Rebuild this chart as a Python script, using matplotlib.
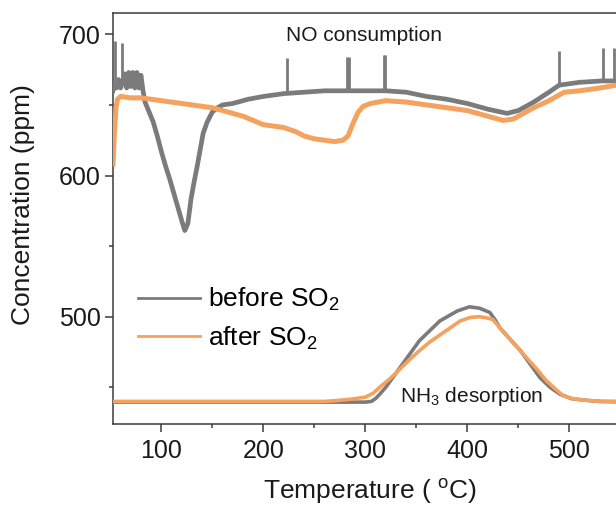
import matplotlib
matplotlib.use('Agg')
import matplotlib.pyplot as plt
from matplotlib.ticker import MultipleLocator
from matplotlib.lines import Line2D

plt.rcParams['font.family'] = ['Liberation Sans', 'DejaVu Sans']
plt.rcParams['mathtext.fontset'] = 'custom'
plt.rcParams['mathtext.rm'] = 'Liberation Sans'
plt.rcParams['mathtext.it'] = 'Liberation Sans:italic'
plt.rcParams['mathtext.bf'] = 'Liberation Sans:bold'

# NO signal before SO2 poisoning (temperature in C, concentration in ppm)
no_before_t = [52.6, 54, 56, 58, 60, 62, 64, 66, 68, 70, 72, 74, 76, 78, 80, 82,
               84, 88, 92, 96, 100, 104, 108, 112, 116, 120, 123, 126, 129, 132, 135, 138,
               141, 145, 150, 155, 160, 170, 185, 200, 220, 240, 260, 280, 298, 320,
               340, 360, 380, 400, 420, 439, 450, 465, 480, 490, 510, 532, 545, 562]
no_before_c = [660, 664, 662, 668, 662, 666, 672, 662, 673, 663, 673, 662, 673, 662, 671, 660,
               652, 645, 638, 628, 617, 607, 598, 588, 578, 568, 561, 566, 583, 595, 606, 618,
               630, 638, 645, 648, 650, 651, 654, 656, 658, 659, 660, 660, 660, 660,
               659, 656, 654, 651, 647, 644, 646, 652, 659, 664, 666, 667, 667, 667]

# sharp spikes on the NO trace before SO2
spike_t = [55, 61, 223, 282, 283.5, 318, 319.5, 490, 533, 544]
spike_base = [664, 664, 658, 660, 660, 660, 660, 664, 667, 667]
spike_top = [695, 694, 683, 684, 684, 685, 685, 688, 690, 690]

# NO signal after SO2 poisoning
no_after_t = [52.6, 54, 55.5, 57, 60, 70, 80, 90, 100, 110, 120, 130, 140, 150, 160, 170,
              180, 190, 200, 210, 220, 232, 240, 250, 260, 270, 278, 283, 288, 293, 298,
              305, 320, 340, 360, 380, 400, 420, 435, 445, 455, 465, 480, 495, 510, 530, 546, 562]
no_after_c = [608, 630, 648, 654, 656, 655, 655, 654, 653, 652, 651, 650, 649, 648, 646, 644,
              642, 639, 636, 635, 634, 631, 628, 626, 625, 624, 625, 628, 637, 645, 649,
              651, 653, 652, 650, 648, 646, 642, 639, 640, 644, 648, 653, 659, 660, 662, 664, 665]

# NH3 desorption signal before SO2
nh3_before_t = [52.6, 300, 306, 310, 314, 320, 334, 353, 373, 390, 402, 412, 422, 427, 432,
                442, 452, 462, 471, 481, 491, 502, 513, 530, 562]
nh3_before_c = [439.5, 439.5, 440, 442, 445, 450, 464, 483, 497, 504, 507, 506, 503, 498, 492,
                484, 476, 466, 457, 450, 445, 442, 441, 440, 439.5]

# NH3 desorption signal after SO2
nh3_after_t = [52.6, 260, 270, 285, 300, 308, 314, 324, 334, 344, 353, 363, 373, 383, 393,
               403, 412, 420, 425, 432, 438, 448, 458, 468, 477, 486, 494, 503, 513, 530, 562]
nh3_after_c = [440, 440, 440.5, 441.5, 443, 446, 450, 456, 463, 470, 476, 482, 487, 492, 497,
               499.5, 500, 499, 498, 492, 487, 479, 471, 463, 455, 449, 444, 442, 441, 440, 440]

grey = '#7b7b7b'
orange = '#f4a25e'
spine_col = '#3a3a3a'

fig = plt.figure(figsize=(6.16, 5.08), dpi=100)
ax = fig.add_axes([113 / 616, 84 / 508, 519.6 / 616, 411 / 508])

ax.plot(no_before_t, no_before_c, color=grey, lw=3.4, zorder=3)
ax.vlines(spike_t, spike_base, spike_top, color=grey, lw=2.0, zorder=3)
ax.plot(no_after_t, no_after_c, color=orange, lw=3.6, zorder=4)
ax.plot(nh3_before_t, nh3_before_c, color=grey, lw=2.6, zorder=3)
ax.plot(nh3_after_t, nh3_after_c, color=orange, lw=2.6, zorder=4)

ax.set_xlim(52.6, 562)
ax.set_ylim(424, 715.1)

ax.xaxis.set_major_locator(MultipleLocator(100))
ax.xaxis.set_minor_locator(MultipleLocator(50))
ax.yaxis.set_major_locator(MultipleLocator(100))
ax.yaxis.set_minor_locator(MultipleLocator(50))
ax.tick_params(which='major', direction='out', length=5.5, width=1.1, color=spine_col,
               labelsize=18, labelcolor='#1a1a1a')
ax.tick_params(which='minor', direction='out', length=3, width=1.1, color=spine_col)
ax.tick_params(axis='x', which='major', pad=5)
ax.tick_params(axis='y', which='major', pad=3.5)

for side in ['left', 'top', 'bottom']:
    ax.spines[side].set_color(spine_col)
    ax.spines[side].set_linewidth(1.1)
ax.spines['right'].set_visible(False)

ax.text(299, 699.5, 'NO consumption', fontsize=15, ha='center', va='center', color='#1a1a1a')
ax.text(404, 439.8, 'NH$_3$ desorption', fontsize=15, ha='center', va='baseline', color='#1a1a1a')

fig.text(370 / 616, 1 - 492 / 508, 'Temperature ( $^{\\mathrm{o}}$C)', fontsize=19,
         ha='center', va='center', color='#1a1a1a')
fig.text(23 / 616, 1 - 205 / 508, 'Concentration (ppm)', fontsize=19, rotation=90,
         ha='center', va='center', color='#1a1a1a')

handles = [Line2D([], [], color=grey, lw=2.0), Line2D([], [], color=orange, lw=2.0)]
ax.legend(handles, ['before SO$_2$', 'after SO$_2$'], loc='center left',
          bbox_to_anchor=(77, 498.5), bbox_transform=ax.transData, frameon=False,
          fontsize=19, borderpad=0, borderaxespad=0, handlelength=2.35,
          handletextpad=0.3, labelspacing=0.42)

fig.savefig('out.png', dpi=100)
